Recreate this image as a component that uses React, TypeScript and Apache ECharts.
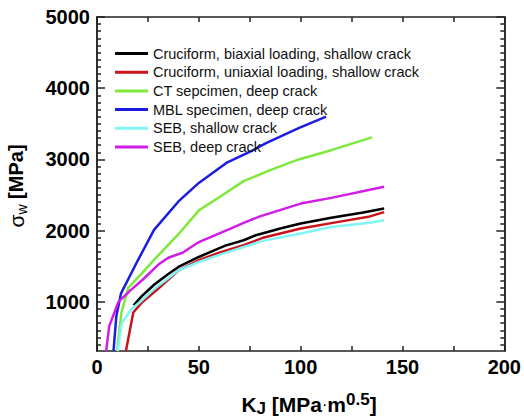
import React, { useEffect, useRef } from "react";
import * as echarts from "echarts";

const seriesNames = [
  "Cruciform, biaxial loading, shallow crack",
  "Cruciform, uniaxial loading, shallow crack",
  "CT sepcimen, deep crack",
  "MBL specimen, deep crack",
  "SEB, shallow crack",
  "SEB, deep crack",
];
const seriesColors = ["#000000", "#c8141a", "#7ee83c", "#1c1ce0", "#82f4f4", "#d11ce8"];

const cruciformBiaxial = [
  [18, 950], [22, 1080], [28, 1240], [35, 1390], [40, 1490], [50, 1630], [63, 1790],
  [72, 1865], [78, 1935], [90, 2030], [100, 2100], [115, 2180], [130, 2250], [141, 2310],
];
const cruciformUniaxial = [
  [14.2, 310], [17.8, 850], [22, 990], [29, 1160], [40, 1440], [50, 1585], [60, 1690],
  [72, 1795], [82, 1905], [100, 2030], [120, 2130], [134, 2200], [141, 2260],
];
const ctDeep = [
  [9.8, 310], [12, 850], [15.4, 1200], [22, 1400], [28, 1590], [40, 1950], [50, 2285],
  [60, 2470], [72, 2695], [85, 2850], [99, 3000], [115, 3130], [135, 3310],
];
const mblDeep = [
  [8.1, 310], [9.5, 800], [11.8, 1120], [20, 1580], [28, 2010], [40, 2410], [50, 2670],
  [64, 2960], [76, 3120], [83, 3230], [99, 3440], [112.5, 3600],
];
const sebShallow = [
  [10.2, 310], [12.1, 700], [17, 900], [22, 1020], [28, 1180], [40, 1440], [50, 1560],
  [60, 1660], [72, 1770], [82, 1860], [100, 1960], [115, 2050], [134, 2110], [141, 2145],
];
const sebDeep = [
  [4.5, 310], [6, 660], [10.5, 1000], [16, 1150], [22, 1300], [30, 1520], [35, 1620],
  [42, 1690], [50, 1840], [65, 2020], [72, 2110], [80, 2200], [100, 2380], [115, 2460],
  [141, 2615],
];
const seriesData = [cruciformBiaxial, cruciformUniaxial, ctDeep, mblDeep, sebShallow, sebDeep];

const yMajorTicks = [1000, 2000, 3000, 4000, 5000];
const yMinorTicks = [
  400, 500, 600, 700, 800, 900, 1100, 1200, 1300, 1400, 1500, 1600, 1700, 1800, 1900,
  2100, 2200, 2300, 2400, 2500, 2600, 2700, 2800, 2900, 3100, 3200, 3300, 3400, 3500,
  3600, 3700, 3800, 3900, 4100, 4200, 4300, 4400, 4500, 4600, 4700, 4800, 4900,
];

const FONT = "'Liberation Sans', Arial, sans-serif";
const AXIS_COLOR = "#222";

export default function App() {
  const ref = useRef<HTMLDivElement>(null);
  useEffect(() => {
    if (!ref.current) return;
    const chart = echarts.init(ref.current, undefined, { renderer: "svg" });
    const yMin = 310;
    const yMax = 5000;
    const baseY = (position: string, ticks: number[], len: number, labels: boolean) => ({
      type: "value",
      position,
      min: yMin,
      max: yMax,
      axisLine: { show: true, onZero: false, lineStyle: { color: AXIS_COLOR, width: 1.5 } },
      axisTick: { show: true, inside: true, length: len, customValues: ticks, lineStyle: { color: AXIS_COLOR, width: 1.5 } },
      axisLabel: labels
        ? {
            show: true,
            customValues: yMajorTicks,
            formatter: (v: number) => String(v),
            margin: 7,
            fontFamily: FONT,
            fontWeight: "bold",
            fontSize: 20,
            color: "#000",
          }
        : { show: false },
      splitLine: { show: false },
    });
    const baseX = (position: string, labels: boolean) => ({
      type: "value",
      position,
      min: 0,
      max: 200,
      interval: 50,
      axisLine: { show: true, onZero: false, lineStyle: { color: AXIS_COLOR, width: 1.5 } },
      axisTick: { show: true, inside: true, length: 5, lineStyle: { color: AXIS_COLOR, width: 1.5 } },
      minorTick: { show: true, splitNumber: 2, length: 5, lineStyle: { color: AXIS_COLOR, width: 1.5 } },
      axisLabel: labels
        ? { show: true, margin: 6, fontFamily: FONT, fontWeight: "bold", fontSize: 20, color: "#000" }
        : { show: false },
      splitLine: { show: false },
      minorSplitLine: { show: false },
    });
    chart.setOption({
      animation: false,
      backgroundColor: "#fff",
      grid: { left: 97, right: 16, top: 17, bottom: 69, containLabel: false },
      xAxis: [baseX("bottom", true), baseX("top", false)],
      yAxis: [
        baseY("left", yMajorTicks, 8, true),
        baseY("left", yMinorTicks, 4, false),
        baseY("right", yMajorTicks, 8, false),
        baseY("right", yMinorTicks, 4, false),
      ],
      legend: {
        show: true,
        orient: "vertical",
        left: 115,
        top: 46,
        padding: 0,
        itemGap: 3.7,
        itemWidth: 33,
        itemHeight: 3,
        itemTextGap: 5,
        icon: "rect",
        data: seriesNames,
        textStyle: { fontFamily: FONT, fontSize: 14.5, lineHeight: 14, color: "#111" },
      },
      series: seriesNames.map((name, i) => ({
        name,
        type: "line",
        xAxisIndex: 0,
        yAxisIndex: 0,
        data: seriesData[i],
        showSymbol: false,
        symbol: "none",
        color: seriesColors[i],
        lineStyle: { color: seriesColors[i], width: 2.5 },
        clip: true,
        z: 3,
      })),
      graphic: [
        {
          type: "text",
          x: 309,
          y: 404,
          style: {
            text: "{m|K}{sub|J}{m| [MPa}{dot|·}{m|m}{sup|0.5}{m|]}",
            align: "center",
            verticalAlign: "middle",
            rich: {
              m: { fontFamily: FONT, fontWeight: "bold", fontSize: 21, lineHeight: 26, fill: "#000" },
              dot: { fontFamily: FONT, fontWeight: "normal", fontSize: 16, lineHeight: 26, fill: "#000" },
              sub: { fontFamily: FONT, fontWeight: "bold", fontSize: 17, lineHeight: 16, verticalAlign: "bottom", fill: "#000" },
              sup: { fontFamily: FONT, fontWeight: "bold", fontSize: 17, lineHeight: 12, verticalAlign: "top", fill: "#000" },
            },
          },
        },
        {
          type: "text",
          x: 16,
          y: 186,
          rotation: Math.PI / 2,
          style: {
            text: "{s|σ}{sub|w}{m| [MPa]}",
            align: "center",
            verticalAlign: "middle",
            rich: {
              m: { fontFamily: FONT, fontWeight: "bold", fontSize: 20, lineHeight: 26, fill: "#000" },
              s: { fontFamily: FONT, fontWeight: "normal", fontSize: 21, lineHeight: 26, fill: "#000" },
              sub: { fontFamily: FONT, fontWeight: "normal", fontSize: 14, lineHeight: 14, verticalAlign: "bottom", fill: "#000" },
            },
          },
        },
      ],
    });
    return () => chart.dispose();
  }, []);
  return (
    <div
      ref={ref}
      style={{ position: "absolute", left: 0, top: 0, width: 524, height: 420, background: "#fff" }}
    />
  );
}
